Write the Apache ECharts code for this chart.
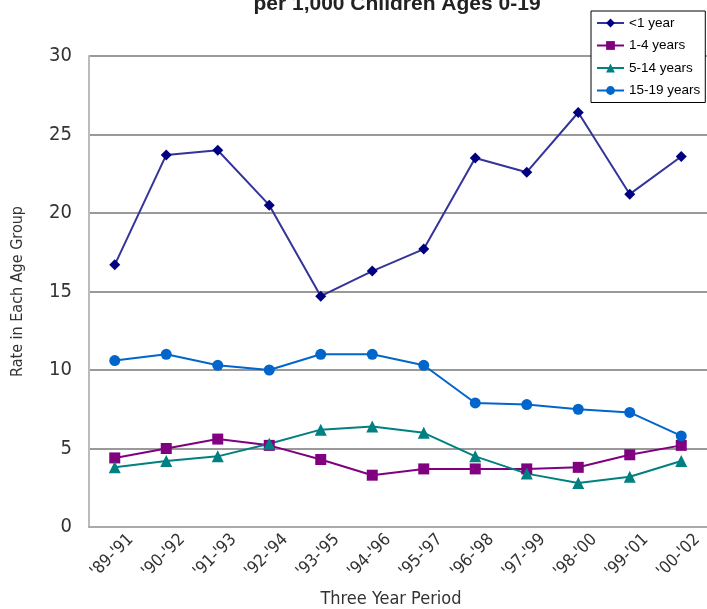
<!DOCTYPE html>
<html><head><meta charset="utf-8">
<script src="https://cdn.jsdelivr.net/npm/echarts@6/dist/echarts.min.js"></script>
<style>html,body{margin:0;padding:0;background:#fff}#c{width:707px;height:609px}</style>
</head><body><div id="c"></div>
<script>
const categories = ["'89-'91","'90-'92","'91-'93","'92-'94","'93-'95","'94-'96","'95-'97","'96-'98","'97-'99","'98-'00","'99-'01","'00-'02"];
const under1 = [16.7, 23.7, 24.0, 20.5, 14.7, 16.3, 17.7, 23.5, 22.6, 26.4, 21.2, 23.6];
const age1to4 = [4.4, 5.0, 5.6, 5.2, 4.3, 3.3, 3.7, 3.7, 3.7, 3.8, 4.6, 5.2];
const age5to14 = [3.8, 4.2, 4.5, 5.3, 6.2, 6.4, 6.0, 4.5, 3.4, 2.8, 3.2, 4.2];
const age15to19 = [10.6, 11.0, 10.3, 10.0, 11.0, 11.0, 10.3, 7.9, 7.8, 7.5, 7.3, 5.8];
const yTicks = [0, 5, 10, 15, 20, 25, 30];

const NARROW = "'Liberation Sans Narrow','Arial Narrow','DejaVu Sans Condensed','Liberation Sans',Arial,sans-serif";
const chart = echarts.init(document.getElementById('c'));
function s(name, data, color, lineColor, symbol, size) {
  return {name, type:'line', data, symbol, symbolSize:size, xAxisIndex:0, yAxisIndex:0,
    lineStyle:{color:lineColor, width:2}, itemStyle:{color:color},
    emphasis:{disabled:true}, animation:false};
}
chart.setOption({
  animation:false,
  title:{text:'per 1,000 Children Ages 0-19', left:392, textAlign:'center', top:-11,
    textStyle:{fontFamily:"'Liberation Sans',Arial,sans-serif", fontWeight:'bold', fontSize:21, color:'#222'}},
  legend:{orient:'vertical', left:591, top:11,
    backgroundColor:'#fff', borderColor:'#000', borderWidth:1, padding:[5,5,5,5],
    itemWidth:27, itemHeight:11, itemGap:8.5,
    textStyle:{fontFamily:"'Liberation Sans',Arial,sans-serif", fontSize:13.5, color:'#000', padding:[0,0,0,0]},
    data:['<1 year','1-4 years','5-14 years','15-19 years']},
  grid:[{left:89, right:0, top:56, bottom:82, containLabel:false, outerBoundsMode:'none'},
        {left:105, right:-16, top:56, bottom:82, containLabel:false, outerBoundsMode:'none'}],
  xAxis:[{type:'category', data:categories, boundaryGap:true, gridIndex:0,
    axisLine:{lineStyle:{color:'#aaa', width:2}}, axisTick:{show:false},
    axisLabel:{show:false},
    name:'Three Year Period', nameLocation:'middle', nameGap:63,
    nameTextStyle:{fontFamily:NARROW, fontSize:18, color:'#333', padding:[0,14,0,0]}},
   {type:'category', data:categories, boundaryGap:true, gridIndex:1,
    axisLine:{show:false}, axisTick:{show:false}, splitLine:{show:false},
    axisLabel:{rotate:45, fontFamily:NARROW, fontSize:17, color:'#333', margin:10, interval:0}}],
  yAxis:[{type:'value', min:yTicks[0], max:yTicks[yTicks.length-1], interval:5, gridIndex:0,
    axisLine:{show:true, lineStyle:{color:'#bbb', width:2}}, axisTick:{show:false},
    splitLine:{lineStyle:{color:'#777', width:1.5}},
    axisLabel:{fontFamily:NARROW, fontSize:20, color:'#333', margin:17},
    name:'Rate in Each Age Group', nameLocation:'middle', nameGap:63, nameRotate:90,
    nameTextStyle:{fontFamily:NARROW, fontSize:16, color:'#333'}},
   {type:'value', min:0, max:30, gridIndex:1, show:false}],
  series:[
    s('<1 year', under1, '#000080', '#333399', 'diamond', 11),
    s('1-4 years', age1to4, '#800080', '#800080', 'rect', 11),
    s('5-14 years', age5to14, '#008080', '#008080', 'triangle', 12),
    s('15-19 years', age15to19, '#0066CC', '#0066CC', 'circle', 11)
  ]
});
</script></body></html>
